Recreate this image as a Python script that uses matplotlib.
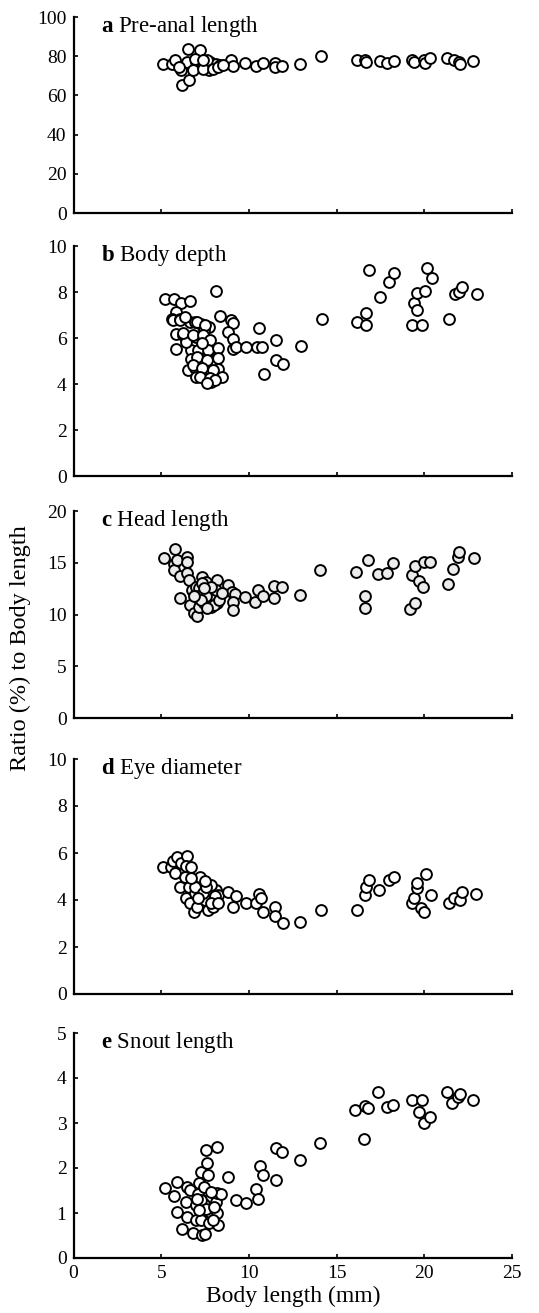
import numpy as np
import matplotlib.pyplot as plt

plt.rcParams['font.family'] = ['Liberation Serif', 'DejaVu Serif']
plt.rcParams['mathtext.fontset'] = 'custom'
plt.rcParams['mathtext.rm'] = 'Liberation Serif'
plt.rcParams['mathtext.bf'] = 'Liberation Serif:bold'

# a: pre-anal length
bl_a = [5.1, 5.6, 5.8, 6.15, 6.2, 6.5, 6.45, 6.6, 7.2, 7.0, 7.2, 7.4, 7.7, 7.8,
        7.95, 8.15, 8.35, 7.6, 9.0, 9.1, 9.8, 10.4, 10.8, 11.5, 11.5, 11.9,
        12.9, 14.1, 16.15, 16.6, 16.7, 17.45, 17.9, 18.25, 19.3, 19.4, 20.0,
        20.05, 20.35, 21.3, 21.7, 21.95, 22.05, 22.8,
        6.0, 6.8, 7.4, 7.95, 8.25, 8.5, 6.9, 7.4]
ratio_a = [76.2, 75.9, 77.9, 72.8, 65.1, 83.8, 77.0, 67.7, 83.0, 77.0, 74.5,
           76.2, 72.8, 77.0, 75.3, 76.2, 75.3, 78.0, 78.2, 74.8, 76.5, 74.8,
           76.7, 76.7, 74.5, 74.8, 76.2, 80.1, 77.9, 77.9, 77.0, 77.6, 76.5,
           77.6, 78.2, 77.0, 77.9, 76.7, 79.3, 79.3, 77.9, 77.0, 75.9, 77.6,
           74.5, 72.8, 73.6, 73.6, 74.5, 75.3, 78.7, 77.9]

# b: body depth
bl_b = [5.19, 5.73, 6.15, 6.62, 8.11, 5.86, 5.61, 5.67, 6.05, 6.62, 6.91, 7.29,
        8.34, 8.97, 9.1, 5.86, 6.24, 5.86, 6.68, 7.0, 7.71, 7.44, 7.48, 6.91,
        7.2, 6.53, 6.91, 7.0, 7.48, 7.58, 7.86, 8.05, 8.24, 8.44, 8.15, 7.86,
        7.58, 7.25, 6.43, 6.72, 8.78, 9.1, 9.1, 9.25, 9.81, 10.44, 10.73,
        10.57, 11.55, 11.55, 11.97, 10.86, 12.98, 14.16, 16.16, 16.7, 16.7,
        16.87, 17.5, 17.98, 18.3, 19.31, 19.41, 19.6, 19.6, 19.85, 20.02,
        20.13, 20.42, 21.41, 21.76, 22.0, 22.14, 22.98,
        6.07, 6.36, 7.02, 7.5, 6.26, 6.83, 7.4, 7.78, 7.12, 7.69, 8.26, 7.02,
        7.59, 8.26, 6.83, 7.31, 7.97, 7.21, 7.78, 8.05, 7.59, 7.35]
ratio_b = [7.71, 7.71, 7.52, 7.59, 8.04, 7.13, 6.84, 6.77, 6.84, 6.70, 6.70,
           6.62, 6.94, 6.77, 6.65, 6.19, 6.12, 5.54, 5.49, 6.04, 6.48, 6.33,
           5.83, 5.10, 5.03, 4.59, 4.71, 4.30, 4.59, 4.23, 4.09, 4.88, 4.67,
           4.30, 5.39, 5.54, 5.17, 5.46, 5.83, 5.07, 6.26, 5.97, 5.51, 5.61,
           5.61, 5.61, 5.61, 6.45, 5.93, 5.03, 4.86, 4.45, 5.64, 6.81, 6.70,
           7.09, 6.58, 8.94, 7.78, 8.43, 8.83, 6.55, 7.52, 7.20, 7.96, 6.58,
           8.04, 9.06, 8.62, 6.81, 7.90, 8.00, 8.22, 7.93,
           6.78, 6.91, 6.71, 6.57, 6.20, 6.13, 6.13, 5.91, 5.48, 5.48, 5.55,
           5.19, 5.04, 5.12, 4.83, 4.68, 4.61, 4.32, 4.25, 4.17, 4.03, 5.80]

# c: head length
bl_c = [5.14, 5.76, 5.72, 5.72, 5.91, 6.48, 6.48, 6.1, 6.48, 6.58, 6.06, 6.77,
        6.96, 7.34, 7.53, 7.15, 6.67, 6.86, 7.06, 7.15, 7.44, 7.72, 7.82,
        8.01, 8.2, 8.17, 8.11, 8.78, 9.06, 9.2, 9.12, 9.08, 9.77, 10.34,
        10.5, 10.78, 11.45, 11.45, 11.87, 12.89, 14.07, 16.1, 16.77, 16.62,
        16.62, 17.38, 17.9, 18.2, 19.2, 19.48, 19.3, 19.48, 19.71, 19.9,
        20.0, 20.34, 21.36, 21.63, 21.91, 22.0, 22.83,
        7.34, 7.06, 7.53, 7.82, 7.25, 8.01, 7.63, 8.3, 8.49, 7.44, 6.86]
ratio_c = [15.5, 16.3, 14.89, 14.31, 15.27, 15.6, 15.1, 13.73, 14.05, 13.34,
           11.58, 12.38, 12.7, 13.6, 13.18, 12.54, 10.93, 10.13, 9.87, 10.77,
           11.09, 12.22, 10.77, 11.58, 11.09, 13.34, 12.38, 12.86, 12.22,
           11.99, 11.25, 10.39, 11.67, 11.25, 12.32, 11.74, 11.58, 12.8,
           12.64, 11.9, 14.31, 14.15, 15.27, 11.8, 10.61, 13.92, 14.0, 14.95,
           10.51, 11.09, 13.83, 14.69, 13.28, 12.64, 15.11, 15.05, 12.96,
           14.41, 15.6, 16.01, 15.43,
           13.0, 11.74, 11.74, 12.7, 11.41, 10.93, 10.61, 11.41, 12.06, 12.54,
           11.74]

# d: eye diameter
bl_d = [5.13, 5.57, 5.67, 5.9, 6.15, 6.49, 5.76, 6.05, 6.34, 6.43, 6.68, 6.56,
        6.43, 6.62, 6.87, 7.06, 6.91, 7.2, 7.2, 7.48, 7.67, 7.73, 7.96, 8.15,
        8.15, 8.24, 7.86, 7.33, 8.82, 9.24, 9.1, 9.81, 10.38, 10.57, 10.82,
        10.69, 11.49, 11.49, 11.93, 12.92, 14.12, 16.16, 16.64, 16.68, 16.87,
        17.44, 17.98, 18.3, 19.31, 19.41, 19.6, 19.6, 19.79, 19.98, 20.08,
        20.4, 21.41, 21.7, 22.02, 22.14, 22.94,
        6.91, 7.39, 7.58, 8.05, 7.86, 7.1, 6.72, 7.48, 8.24]
ratio_d = [5.40, 5.40, 5.68, 5.82, 5.57, 5.88, 5.14, 4.57, 5.00, 5.43, 5.40,
           4.57, 4.08, 3.86, 3.47, 3.72, 4.29, 4.74, 5.00, 4.01, 3.58, 4.43,
           3.72, 4.01, 4.43, 4.22, 4.64, 4.57, 4.32, 4.15, 3.72, 3.89, 3.86,
           4.26, 3.51, 4.08, 3.72, 3.32, 3.04, 3.08, 3.58, 3.58, 4.22, 4.57,
           4.83, 4.43, 4.86, 4.97, 3.86, 4.08, 4.50, 4.74, 3.65, 3.51, 5.11,
           4.22, 3.86, 4.08, 4.01, 4.32, 4.26,
           4.57, 4.29, 4.57, 4.15, 3.86, 4.08, 4.93, 4.79, 3.86]

# e: snout length
bl_e = [5.22, 5.92, 5.73, 5.92, 6.17, 6.43, 6.49, 6.62, 6.49, 6.83, 6.96, 6.96,
        7.09, 7.15, 7.25, 7.34, 7.48, 7.53, 7.59, 7.67, 7.44, 7.25, 7.69,
        7.78, 7.72, 8.1, 8.2, 8.2, 8.24, 8.16, 8.39, 7.44, 7.82, 8.8, 9.24,
        9.81, 10.38, 10.51, 10.66, 10.8, 11.52, 11.52, 11.9, 12.9, 14.08,
        16.07, 16.58, 16.6, 16.79, 17.36, 17.87, 18.22, 19.3, 19.68, 19.87,
        19.96, 20.34, 21.29, 21.58, 21.9, 22.01, 22.77,
        7.25, 7.53, 7.15, 7.97, 7.06, 8.0]
ratio_e = [1.55, 1.69, 1.37, 1.03, 0.65, 1.25, 1.57, 1.52, 0.91, 0.56, 0.85,
           1.17, 1.42, 1.67, 1.92, 0.51, 0.54, 2.40, 2.12, 1.84, 1.58, 0.84,
           1.30, 1.03, 0.77, 1.25, 2.47, 1.45, 0.73, 0.99, 1.43, 1.21, 1.47,
           1.81, 1.29, 1.23, 1.53, 1.32, 2.05, 1.84, 1.73, 2.44, 2.35, 2.18,
           2.56, 3.28, 2.64, 3.38, 3.33, 3.68, 3.35, 3.40, 3.51, 3.25, 3.51,
           3.01, 3.14, 3.68, 3.44, 3.57, 3.65, 3.51,
           1.28, 1.10, 1.06, 0.84, 1.32, 1.14]

panels = [
    ("a", "Pre-anal length", bl_a, ratio_a, 100, 20, "white"),
    ("b", "Body depth", bl_b, ratio_b, 10, 2, "white"),
    ("c", "Head length", bl_c, ratio_c, 20, 5, "#ececec"),
    ("d", "Eye diameter", bl_d, ratio_d, 10, 2, "white"),
    ("e", "Snout length", bl_e, ratio_e, 5, 1, "white"),
]
# pixel extents (top, bottom) of each panel
extents = [(17, 213), (246, 476), (511, 718), (759, 994), (1033, 1258)]

W, H = 539, 1313
fig = plt.figure(figsize=(W / 100, H / 100), dpi=100)

x0, x1 = 73.5, 512
for i, (letra, nombre, x, y, ymax, paso, relleno) in enumerate(panels):
    top, bot = extents[i]
    ax = fig.add_axes([x0 / W, 1 - bot / H, (x1 - x0) / W, (bot - top) / H])
    ax.plot(x, y, 'o', ms=7.8, mfc=relleno, mec='black', mew=1.4,
            clip_on=False, zorder=3)
    ax.set_xlim(0, 25)
    ax.set_ylim(0, ymax)
    ax.set_xticks(np.arange(0, 26, 5))
    ax.set_yticks(np.arange(0, ymax + paso / 2, paso))
    for s in ['top', 'right']:
        ax.spines[s].set_visible(False)
    for s in ['left', 'bottom']:
        ax.spines[s].set_linewidth(1.6)
    ax.tick_params(direction='in', length=3, width=1.2, labelsize=14,
                   colors='black', pad=5)
    if i < 4:
        ax.tick_params(axis='x', labelbottom=False)
    ax.annotate(r"$\mathbf{%s}$ %s" % (letra, nombre), xy=(0, 1),
                xycoords='axes fraction', xytext=(20, -7),
                textcoords='offset points', ha='left', va='center',
                fontsize=16.5)
    if i == 4:
        ax.set_xlabel("Body length (mm)", fontsize=17, labelpad=3)

fig.text(20 / W, 1 - 648 / H, "Ratio (%) to Body length", rotation=90,
         ha='center', va='center', fontsize=17.5)

fig.savefig("out.png", dpi=100)
